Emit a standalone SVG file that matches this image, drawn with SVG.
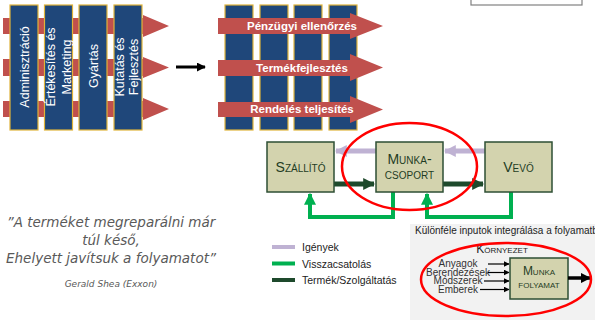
<svg xmlns="http://www.w3.org/2000/svg" width="595" height="320" viewBox="0 0 595 320">
  <defs>
    <style>
      .col { fill: #1F477A; stroke: #E0B43A; stroke-width: 1.2; }
      .band { fill: #C0504D; }
      .coltxt { font-family: "Liberation Sans", Arial, sans-serif; font-size: 12.5px; fill: #ffffff; text-anchor: middle; }
      .bandtxt { font-family: "Liberation Sans", Arial, sans-serif; font-size: 11.5px; font-weight: bold; fill: #ffffff; text-anchor: middle; }
      .box { fill: #D3D3AE; stroke: #2E4F34; stroke-width: 1.5; }
      .boxtxt { font-family: "Liberation Sans", Arial, sans-serif; font-size: 14px; fill: #1F3D24; text-anchor: middle; font-variant: small-caps; }
      .req { stroke: #BFB2D3; stroke-width: 5; fill: none; }
      .prod { stroke: #1E4A2C; stroke-width: 5; fill: none; }
      .fb { stroke: #00B050; stroke-width: 4; fill: none; }
      .quote { font-family: "DejaVu Sans", Verdana, sans-serif; font-style: italic; font-size: 13.5px; fill: #595959; text-anchor: middle; }
      .legend { font-family: "Liberation Sans", Arial, sans-serif; font-size: 10.5px; fill: #222222; }
      .small { font-family: "Liberation Sans", Arial, sans-serif; font-size: 10px; fill: #222222; }
      .inp { font-family: "Liberation Sans", Arial, sans-serif; font-size: 10px; fill: #333333; text-anchor: middle; }
      .ring { fill: none; stroke: #FF0000; stroke-width: 2.5; }
    </style>
    <marker id="headReq" viewBox="0 0 10 10" refX="9" refY="5" markerWidth="2.4" markerHeight="2.8" orient="auto" markerUnits="strokeWidth">
      <path d="M0,0 L10,5 L0,10 z" fill="#BFB2D3"/>
    </marker>
    <marker id="headProd" viewBox="0 0 10 10" refX="9" refY="5" markerWidth="2.4" markerHeight="2.8" orient="auto" markerUnits="strokeWidth">
      <path d="M0,0 L10,5 L0,10 z" fill="#1E4A2C"/>
    </marker>
    <marker id="headFb" viewBox="0 0 10 10" refX="9" refY="5" markerWidth="3" markerHeight="3.4" orient="auto" markerUnits="strokeWidth">
      <path d="M0,0 L10,5 L0,10 z" fill="#00B050"/>
    </marker>
    <marker id="headBlk" viewBox="0 0 10 10" refX="9" refY="5" markerWidth="3" markerHeight="3" orient="auto" markerUnits="strokeWidth">
      <path d="M0,0 L10,5 L0,10 z" fill="#000000"/>
    </marker>
    <marker id="headThin" viewBox="0 0 10 10" refX="9" refY="5" markerWidth="5" markerHeight="5" orient="auto" markerUnits="strokeWidth">
      <path d="M0,0 L10,5 L0,10 z" fill="#000000"/>
    </marker>
  </defs>

  <rect width="595" height="320" fill="#ffffff"/>

  <!-- functional organisation: process bands behind department columns -->
  <g id="functional">
    <g id="bands-left">
      <path class="band" d="M3,18 H143 V15 L169,26 L143,37 V34 H3 z"/>
      <path class="band" d="M3,59 H143 V57 L169,67.5 L143,78 V76 H3 z"/>
      <path class="band" d="M3,101 H143 V98 L169,109 L143,120 V117 H3 z"/>
    </g>
    <g id="col-admin">
      <rect class="col" x="10" y="5" width="28" height="125"/>
      <text class="coltxt" transform="translate(28.5,67) rotate(-90)">Adminisztráció</text>
    </g>
    <g id="col-sales">
      <rect class="col" x="44.5" y="5" width="28" height="125"/>
      <text class="coltxt" transform="translate(54.5,67) rotate(-90)">Értékesítés és</text>
      <text class="coltxt" transform="translate(70.5,67) rotate(-90)">Marketing</text>
    </g>
    <g id="col-prod">
      <rect class="col" x="79" y="5" width="28" height="125"/>
      <text class="coltxt" transform="translate(97.5,66) rotate(-90)">Gyártás</text>
    </g>
    <g id="col-rnd">
      <rect class="col" x="114" y="5" width="28" height="125"/>
      <text class="coltxt" transform="translate(123.5,67) rotate(-90)">Kutatás és</text>
      <text class="coltxt" transform="translate(138,67) rotate(-90)">Fejlesztés</text>
    </g>
  </g>

  <!-- process organisation: bands in front of columns -->
  <g id="process">
    <rect class="col" x="225" y="5" width="28" height="125"/>
    <rect class="col" x="260" y="5" width="28" height="125"/>
    <rect class="col" x="294" y="5" width="28" height="125"/>
    <rect class="col" x="329" y="5" width="28" height="125"/>
    <g id="band-finance">
      <path class="band" d="M218,18 H350 V13 L383,26 L350,39 V34 H218 z"/>
      <text class="bandtxt" x="302" y="30">Pénzügyi ellenőrzés</text>
    </g>
    <g id="band-dev">
      <path class="band" d="M218,60 H350 V54 L383,67.5 L350,81 V76 H218 z"/>
      <text class="bandtxt" x="302" y="72">Termékfejlesztés</text>
    </g>
    <g id="band-order">
      <path class="band" d="M218,102 H350 V96 L383,109.5 L350,123 V117 H218 z"/>
      <text class="bandtxt" x="302" y="113">Rendelés teljesítés</text>
    </g>
  </g>

  <!-- transition arrow -->
  <line x1="176" y1="67" x2="205" y2="67" stroke="#000" stroke-width="3" marker-end="url(#headBlk)"/>

  <!-- partially visible frame top right -->
  <rect x="471" y="-10" width="111" height="15" fill="none" stroke="#808080" stroke-width="1.2"/>

  <!-- supply chain connectors -->
  <g id="connectors">
    <line class="req" x1="376" y1="151" x2="336" y2="151" marker-end="url(#headReq)"/>
    <line class="req" x1="485" y1="151" x2="445" y2="151" marker-end="url(#headReq)"/>
    <line class="prod" x1="334" y1="184" x2="374" y2="184" marker-end="url(#headProd)"/>
    <line class="prod" x1="443" y1="184" x2="483" y2="184" marker-end="url(#headProd)"/>
    <polyline class="fb" points="393,192 393,217 310,217 310,194" marker-end="url(#headFb)"/>
    <polyline class="fb" points="511,192 511,217 427,217 427,194" marker-end="url(#headFb)"/>
  </g>

  <g id="supplier">
    <rect class="box" x="267" y="142" width="67" height="50"/>
    <text class="boxtxt" x="300.5" y="172">Szállító</text>
  </g>
  <g id="team">
    <rect class="box" x="376" y="142" width="67" height="50"/>
    <text class="boxtxt" x="409.5" y="164">Munka-</text>
    <text class="boxtxt" x="409.5" y="179">csoport</text>
  </g>
  <g id="customer">
    <rect class="box" x="485" y="142" width="67" height="50"/>
    <text class="boxtxt" x="518.5" y="172">Vevő</text>
  </g>

  <ellipse class="ring" cx="409.5" cy="166.5" rx="67.5" ry="43.5"/>

  <!-- quotation -->
  <g id="quote">
    <text class="quote" x="111" y="227">”A terméket megreparálni már</text>
    <text class="quote" x="111" y="245">túl késő,</text>
    <text class="quote" x="111" y="263">Ehelyett javítsuk a folyamatot”</text>
    <text class="quote" x="111" y="287" style="font-size:9px">Gerald Shea (Exxon)</text>
  </g>

  <!-- legend -->
  <g id="legend">
    <line x1="272" y1="247" x2="295" y2="247" stroke="#BFB2D3" stroke-width="4"/>
    <text class="legend" x="302" y="251">Igények</text>
    <line x1="272" y1="263.5" x2="295" y2="263.5" stroke="#00B050" stroke-width="4"/>
    <text class="legend" x="302" y="267.5">Visszacsatolás</text>
    <line x1="272" y1="280" x2="295" y2="280" stroke="#1E4A2C" stroke-width="4"/>
    <text class="legend" x="302" y="284">Termék/Szolgáltatás</text>
  </g>

  <!-- work process inputs -->
  <g id="work-process">
    <rect x="410" y="224" width="185" height="96" fill="#F2F2F2"/>
    <text class="small" x="415" y="233.5">Különféle inputok integrálása a folyamatba</text>
    <text class="boxtxt" x="502" y="253" style="font-size:12px;fill:#222">Környezet</text>
    <g id="inputs">
      <text class="inp" x="458" y="267">Anyagok</text>
      <text class="inp" x="458" y="275.5">Berendezések</text>
      <text class="inp" x="458" y="284">Módszerek</text>
      <text class="inp" x="458" y="292.5">Emberek</text>
      <line x1="488" y1="264" x2="509" y2="264" stroke="#000" stroke-width="1.2" marker-end="url(#headThin)"/>
      <line x1="488" y1="272.5" x2="509" y2="272.5" stroke="#000" stroke-width="1.2" marker-end="url(#headThin)"/>
      <line x1="484" y1="281" x2="509" y2="281" stroke="#000" stroke-width="1.2" marker-end="url(#headThin)"/>
      <line x1="480" y1="289.5" x2="509" y2="289.5" stroke="#000" stroke-width="1.2" marker-end="url(#headThin)"/>
    </g>
    <rect class="box" x="510" y="258" width="58" height="41"/>
    <text class="boxtxt" x="539" y="275" style="font-size:12px">Munka</text>
    <text class="boxtxt" x="539" y="287.5" style="font-size:12px">folyamat</text>
    <line x1="568" y1="278" x2="590" y2="278" stroke="#000" stroke-width="3.5" marker-end="url(#headBlk)"/>
    <ellipse class="ring" cx="506" cy="279.5" rx="85" ry="36.5"/>
  </g>
</svg>
